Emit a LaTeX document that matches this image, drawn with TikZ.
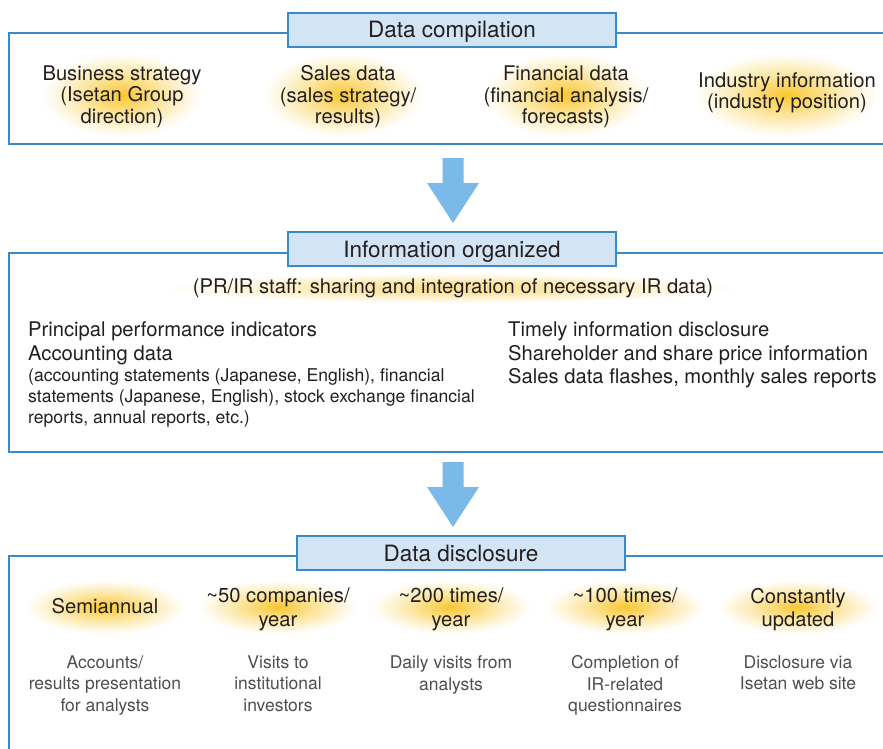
\documentclass[tikz,border=0pt]{standalone}
\usepackage{fontspec}
\setmainfont{TeX Gyre Heros}
\usepackage{tikz}

\definecolor{framec}{RGB}{58,137,201}
\definecolor{titlec}{RGB}{211,228,245}
\definecolor{arrowc}{RGB}{122,185,232}
\definecolor{glowc}{RGB}{248,194,28}
\definecolor{palec}{RGB}{250,214,110}
\definecolor{textc}{RGB}{35,31,32}
\definecolor{subc}{RGB}{78,78,78}

\pgfdeclareradialshading{glowshade}{\pgfpoint{0bp}{0bp}}{color(0bp)=(glowc!92!white); color(7bp)=(glowc!62!white); color(15bp)=(glowc!32!white); color(21bp)=(glowc!12!white); color(25bp)=(white); color(50bp)=(white)}
\pgfdeclareradialshading{paleshade}{\pgfpoint{0bp}{0bp}}{color(0bp)=(palec!80!white); color(12bp)=(palec!50!white); color(21bp)=(palec!15!white); color(25bp)=(white); color(50bp)=(white)}

\tikzset{
  panel/.style={draw=framec, line width=2.6pt, line join=miter},
  titlebox/.style={draw=framec, line width=2.6pt, fill=titlec, minimum width=328pt, minimum height=34pt, inner sep=0pt, text height=16pt, text depth=0pt, font=\fontsize{22.5}{24}\selectfont, text=textc},
  glow/.style={shading=glowshade},
  pale/.style={shading=paleshade},
  item/.style={align=center, inner sep=0pt, font=\fontsize{20.2}{21.5}\selectfont, text=textc},
  itemtop/.style={align=center, inner sep=0pt, font=\fontsize{20.2}{23.5}\selectfont, text=textc},
  itemlow/.style={align=center, anchor=north, inner sep=0pt, font=\fontsize{17.5}{21.5}\selectfont, text=subc},
  block/.style={align=left, anchor=north west, inner sep=0pt, font=\fontsize{20.2}{23.5}\selectfont, text=textc},
  small/.style={align=left, anchor=north west, inner sep=0pt, font=\fontsize{17.6}{21}\selectfont, text=textc},
}

\newcommand{\blockarrow}[1]{\fill[arrowc] (#1) ++(-10.5,0) -- ++(21,0) -- ++(0,25) -- ++(15.5,0) -- ++(-26,40) -- ++(-26,-40) -- ++(15.5,0) -- cycle;}

\begin{document}
\begin{tikzpicture}[x=1pt, y=-1pt]
\useasboundingbox (0,0) rectangle (883,749);

% data compilation
\draw[panel] (883,33) -- (9,33) -- (9,144) -- (883,144);
\node[titlebox] (compile) at (452,30) {Data compilation};
\shade[glow] (122,95) ellipse (80 and 42);
\shade[glow] (343,95) ellipse (80 and 42);
\shade[glow] (566,95) ellipse (81 and 42);
\shade[glow] (786,95) ellipse (91 and 42);
\node[item] (strategy) at (122,96.5) {Business strategy\\(Isetan Group\\direction)};
\node[item] (sales) at (348,97) {Sales data\\(sales strategy/\\results)};
\node[item] (financial) at (566,97) {Financial data\\(financial analysis/\\forecasts)};
\node[item] (industry) at (787,93) {Industry information\\(industry position)};

\coordinate (arrA) at (453,158);
\blockarrow{arrA}

% information organized
\draw[panel] (883,253) -- (9,253) -- (9,452) -- (883,452);
\node[titlebox] (organize) at (452,249) {Information organized};
\shade[pale] (452,288) ellipse (285 and 15);
\node[item] (staff) at (453,288.5) {(PR/IR staff: sharing and integration of necessary IR data)};
\node[block] (indicators) at (28,322) {Principal performance indicators\\Accounting data};
\node[small] (statements) at (28,368) {(accounting statements (Japanese, English), financial\\statements (Japanese, English), stock exchange financial\\reports, annual reports, etc.)};
\node[block] (timely) at (508,322) {Timely information disclosure\\Shareholder and share price information\\Sales data flashes, monthly sales reports};

\coordinate (arrB) at (453,462);
\blockarrow{arrB}

% data disclosure
\draw[panel] (883,556) -- (9,556) -- (9,749);
\node[titlebox] (disclose) at (461,553) {Data disclosure};
\shade[glow] (105,607) ellipse (80 and 27);
\shade[glow] (278,607) ellipse (80 and 27);
\shade[glow] (451,607) ellipse (80 and 27);
\shade[glow] (625,607) ellipse (80 and 27);
\shade[glow] (798,607) ellipse (80 and 27);
\node[itemtop] (semi) at (105,606.5) {Semiannual};
\node[itemtop] (companies) at (278,609.5) {\textasciitilde50 companies/\\year};
\node[itemtop] (visits) at (451,609.5) {\textasciitilde200 times/\\year};
\node[itemtop] (surveys) at (625,609.5) {\textasciitilde100 times/\\year};
\node[itemtop] (updated) at (798,609.5) {Constantly\\updated};
\node[itemlow] (presentation) at (105,655.5) {Accounts/\\results presentation\\for analysts};
\node[itemlow] (investors) at (278,655.5) {Visits to\\institutional\\investors};
\node[itemlow] (analysts) at (451,655.5) {Daily visits from\\analysts};
\node[itemlow] (questionnaires) at (625,655.5) {Completion of\\IR-related\\questionnaires};
\node[itemlow] (website) at (798,655.5) {Disclosure via\\Isetan web site};
\end{tikzpicture}
\end{document}
